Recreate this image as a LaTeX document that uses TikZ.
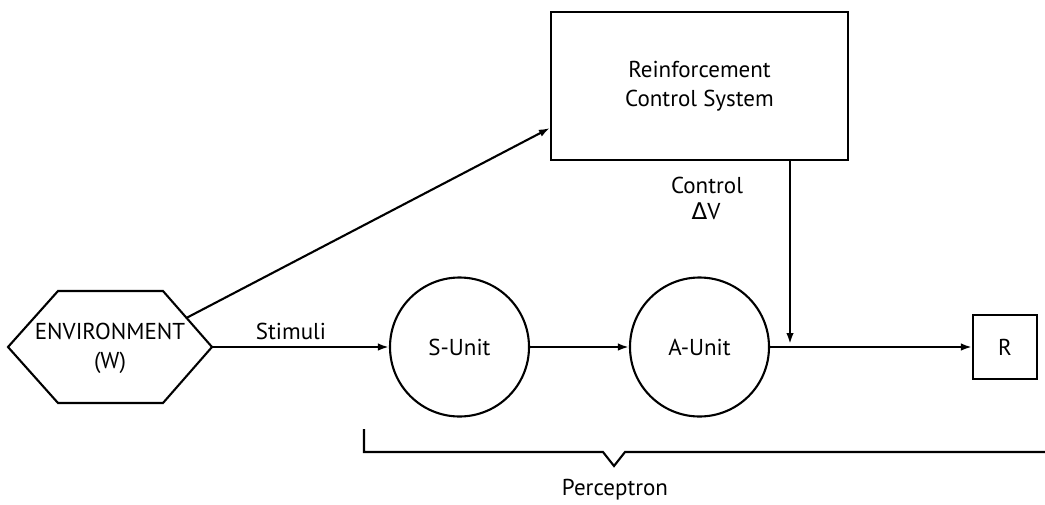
\documentclass[tikz,border=0pt]{standalone}
\usepackage{fontspec}
\setmainfont{PT Sans}
\newfontfamily\greekface{DejaVu Sans}
\usetikzlibrary{arrows.meta,calc}
\begin{document}
\begin{tikzpicture}[x=1pt,y=-1pt,
  line width=2.1pt,
  every node/.style={font=\fontsize{23}{29}\selectfont, text=black},
  arr/.style={-{Latex[length=11pt,width=7.5pt]}},
  unit/.style={draw, circle, minimum size=139pt, inner sep=0pt},
  block/.style={draw, rectangle, inner sep=0pt, align=center},
  lbl/.style={inner sep=0pt, align=center}]
\useasboundingbox (0,0) rectangle (1045,504);

% environment hexagon
\coordinate (hl)  at (8,347);
\coordinate (htl) at (58,291);
\coordinate (htr) at (163,291);
\coordinate (hr)  at (212,347);
\coordinate (hbr) at (163,403);
\coordinate (hbl) at (58,403);
\draw[line join=miter] (hl) -- (htl) -- (htr) -- (hr) -- (hbr) -- (hbl) -- cycle;
\node[lbl] (env) at (110,348) {ENVIRONMENT\\(W)};
\coordinate (envup) at ($(htr)!0.48!(hr)$);

% blocks
\node[block, minimum width=297pt, minimum height=148pt] (rcs) at (699.5,86)
  {Reinforcement\\Control System};
\node[unit] (su) at (459.5,347) {S-Unit};
\node[unit] (au) at (699.5,347) {A-Unit};
\node[block, minimum width=64pt, minimum height=64pt] (r) at (1005,347) {R};

% connectors
\coordinate (ctop) at (rcs.south -| 790,0);
\coordinate (cjoin) at (790,347);
\draw[arr] (hr) -- (su.west);
\draw[arr] (envup) -- (rcs.west |- 0,128);
\draw[arr] (su.east) -- (au.west);
\draw[arr] (au.east) -- (r.west);
\draw[arr, shorten >=3pt] (ctop) -- (cjoin);

% labels
\node[lbl] (stim) at (291,331) {Stimuli};
\node[lbl] (ctl) at (707,185) {Control};
\node[lbl] (dv) at (706,211) {{\greekface Δ}V};

% perceptron bracket
\draw[line join=miter] (364,429) -- (364,452) -- (603,452) -- (614,466) -- (625,452) -- (1045,452);
\node[lbl] (perc) at (615,490) {Perceptron};
\end{tikzpicture}
\end{document}
